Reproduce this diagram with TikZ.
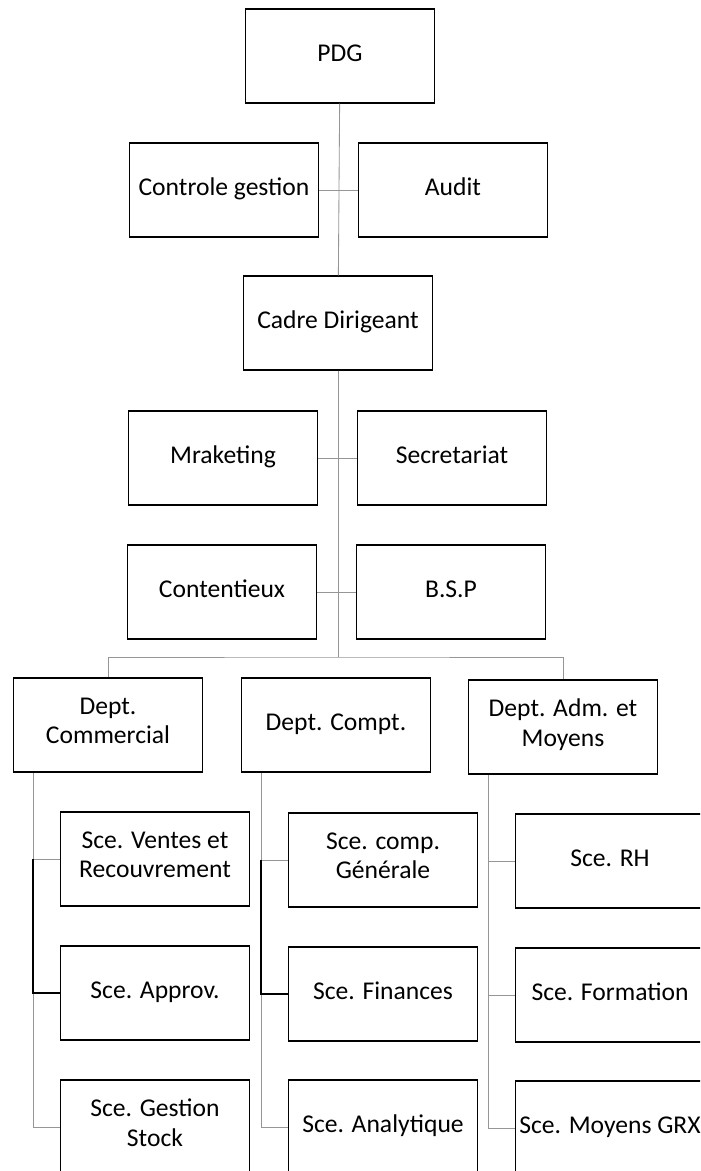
\documentclass[tikz,border=0pt]{standalone}
\usepackage{fontspec}
\setmainfont{Carlito}
\usepackage{tikz}
\usetikzlibrary{positioning,calc}

\begin{document}
\begin{tikzpicture}
	[x=0.025cm,y=-0.025cm,
	bx/.style={draw=black,line width=0.9pt,minimum width=4.72cm,minimum height=2.35cm,align=center,inner sep=1pt,
		font=\fontsize{18.2}{21}\selectfont,execute at begin node={\strut},execute at end node={\strut}},
	gl/.style={draw={rgb,255:red,150;green,150;blue,150},line width=0.6pt},
	bl/.style={draw=black,line width=0.9pt}]
	\clip (0,0) rectangle (700,1171);
	\fill[white] (0,0) rectangle (700,1171);
	%%%%% TOP
	\node[bx] (pdg) at (340,56) {PDG};
	\node[bx] (ctrl) at (224,190) {Controle gestion};
	\node[bx] (audit) at (453,190) {Audit};
	\node[bx] (cadre) at (338,323) {Cadre Dirigeant};
	\node[bx] (mkt) at (223,458) {Mraketing};
	\node[bx] (secr) at (452,458) {Secretariat};
	\node[bx] (cont) at (222,592) {Contentieux};
	\node[bx] (bsp) at (451,592) {B.S.P};
	\path[gl] (pdg) -- (cadre);
	\path[gl] (ctrl) -- (audit);
	\path[gl] (mkt) -- (secr);
	\path[gl] (cont) -- (bsp);
	%%%%% DEPARTMENTS
	\coordinate (bus) at (338,657);
	\node[bx] (dcom) at (108,725) {Dept.\\Commercial};
	\node[bx] (dcpt) at (336,725) {Dept. Compt.};
	\node[bx] (dadm) at (563,727) {Dept. Adm. et\\Moyens};
	\path[gl] (cadre.south) -- (bus);
	\path[gl] (dcom.north) |- (bus) -| (dadm.north);
	%%%%% SERVICES
	\node[bx] (s11) at (155,859) {Sce. Ventes et\\Recouvrement};
	\node[bx] (s12) at (155,993) {Sce. Approv.};
	\node[bx] (s13) at (155,1127) {Sce. Gestion\\Stock};
	\node[bx] (s21) at (383,860) {Sce. comp.\\Générale};
	\node[bx] (s22) at (383,994) {Sce. Finances};
	\node[bx] (s23) at (383,1127) {Sce. Analytique};
	\node[bx] (s31) at (610,861) {Sce. RH};
	\node[bx] (s32) at (610,995) {Sce. Formation};
	\node[bx] (s33) at (610,1128) {Sce. Moyens GRX};
	\foreach \c/\x in {1/33,2/261,3/488}
	{
	\coordinate (top\c) at (\x,0);
	\coordinate (a\c) at (s\c1.west -| top\c);
	\coordinate (b\c) at (s\c2.west -| top\c);
	\coordinate (e\c) at (s\c3.west -| top\c);
	\path[gl] (a\c) -- (s\c1.west);
	\path[gl] (b\c) -- (e\c) -- (s\c3.west);
	};
	\path[gl] (dcom.south -| top1) -- (a1);
	\path[gl] (dcpt.south -| top2) -- (a2);
	\path[gl] (dadm.south -| top3) -- (a3);
	\path[bl] (a1) -- (b1) -- (s12.west);
	\path[bl] (a2) -- (b2) -- (s22.west);
	\path[gl] (a3) -- (b3) -- (s32.west);
	\end{tikzpicture}
\end{document}
